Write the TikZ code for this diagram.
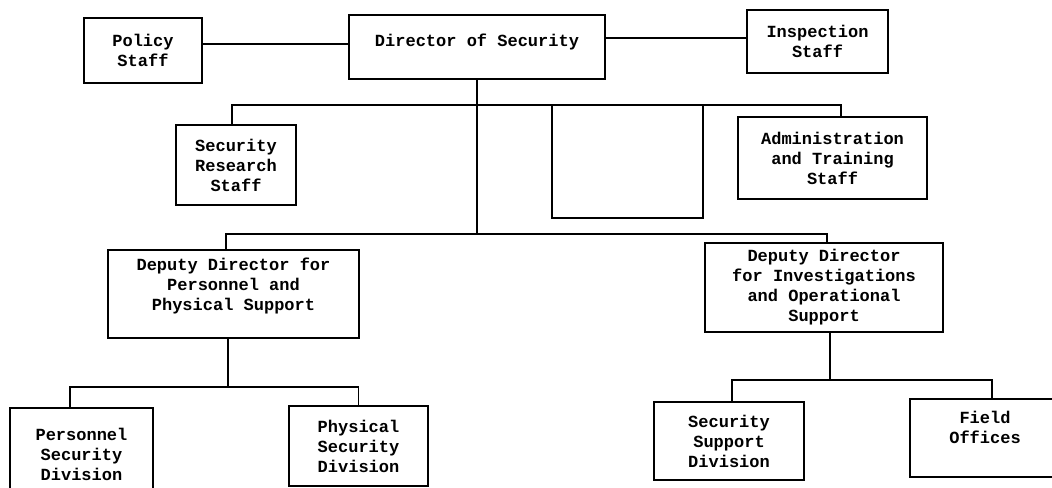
\documentclass[tikz,border=0pt]{standalone}
\usepackage{fontspec}
\setmonofont{Liberation Mono}
\begin{document}
\begin{tikzpicture}[x=0.5pt,y=-0.5pt,
  box/.style={draw, line width=1pt, inner sep=0pt, outer sep=0pt, align=center,
    font=\ttfamily\bfseries\fontsize{8.5}{10}\selectfont},
  conn/.style={line width=0.9pt}]
\useasboundingbox (0,0) rectangle (1052,487);
\node[box, minimum width=59pt, minimum height=32.5pt] (pol) at (143,50.5) {Policy\\Staff};
\node[box, minimum width=128pt, minimum height=32pt, text depth=6.7pt] (dir) at (477,47) {Director of Security};
\node[box, minimum width=70.5pt, minimum height=31.5pt] (insp) at (817.5,41.5) {Inspection\\Staff};
\node[box, minimum width=60pt, minimum height=40pt] (srs) at (236,165) {Security\\Research\\Staff};
\node[box, minimum width=75.5pt, minimum height=56.5pt] (empty) at (627.5,161.5) {};
\node[box, minimum width=94.5pt, minimum height=41pt] (adm) at (832.5,158) {Administration\\and Training\\Staff};
\node[box, minimum width=125.5pt, minimum height=44pt, text depth=9.7pt] (dd1) at (233.5,294) {Deputy Director for\\Personnel and\\Physical Support};
\node[box, minimum width=119pt, minimum height=44.5pt] (dd2) at (824,287.5) {Deputy Director\\for Investigations\\and Operational\\Support};
\node[box, minimum width=71.5pt, minimum height=46pt] (pers) at (81.5,454) {Personnel\\Security\\Division};
\node[box, minimum width=69.5pt, minimum height=40pt] (phys) at (358.5,446) {Physical\\Security\\Division};
\node[box, minimum width=75pt, minimum height=39pt] (ssd) at (729,441) {Security\\Support\\Division};
\node[box, minimum width=75pt, minimum height=39pt, text depth=10.7pt] (fo) at (985,438) {Field\\Offices};
\coordinate (j1) at (477,105);
\coordinate (j2) at (477,234);
\coordinate (j3) at (228,387);
\coordinate (j4) at (830,380);
\draw[conn] ([yshift=3.25pt]pol.east) -- ([yshift=3.25pt]pol.east -| dir.west);
\draw[conn] ([yshift=4.5pt]dir.east) -- ([yshift=4.5pt]dir.east -| insp.west);
\draw[conn] (dir.south) -- (j2);
\draw[conn] ([xshift=-2pt]srs.north) |- (j1) -| ([xshift=4.25pt]adm.north);
\draw[conn] ([xshift=-3.75pt]dd1.north) |- (j2) -| ([xshift=1.5pt]dd2.north);
\draw[conn] ([xshift=-2.75pt]dd1.south) -- (j3);
\draw[conn] ([xshift=-5.75pt]pers.north) |- (j3) -| (phys.north);
\draw[conn] ([xshift=3pt]dd2.south) -- (j4);
\draw[conn] ([xshift=1.5pt]ssd.north) |- (j4) -| ([xshift=3.5pt]fo.north);
\end{tikzpicture}
\end{document}
